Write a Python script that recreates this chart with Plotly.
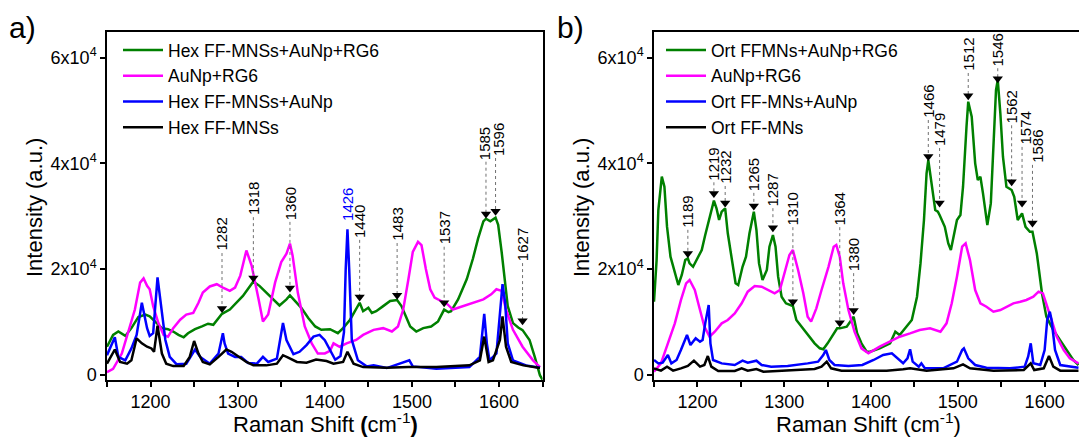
import plotly.graph_objects as go

# ---------------- panel a: hexagonal FF-MNSs ----------------
hex_rg6_x = [1150, 1157, 1163, 1171, 1178, 1186, 1194, 1199, 1205, 1213, 1220, 1226, 1232, 1238, 1243,
             1251, 1259, 1266, 1272, 1278, 1282, 1291, 1299, 1306, 1313, 1318, 1325, 1333, 1341, 1348,
             1356, 1360, 1366, 1373, 1381, 1389, 1396, 1406, 1415, 1421, 1429, 1435, 1440, 1444, 1450,
             1454, 1459, 1467, 1475, 1483, 1488, 1493, 1498, 1505, 1513, 1522, 1530, 1537, 1542, 1545,
             1553, 1563, 1570, 1576, 1582, 1585, 1590, 1596, 1599, 1603, 1607, 1610, 1616, 1622, 1627,
             1635, 1641, 1647, 1650]
hex_rg6_y = [5260, 7500, 8140, 7310, 8780, 10900, 11350, 11030, 10060, 8780, 8590, 8140, 7500, 7050, 7820,
             8590, 9100, 9620, 9420, 10700, 11500, 12300, 13590, 14870, 16470, 17600, 16790, 15510, 14230, 13080,
             14230, 15000, 13910, 12630, 10700, 9100, 8460, 8590, 7820, 8780, 10380, 11990, 13590, 11990, 12630,
             11670, 11990, 12950, 13910, 14100, 12950, 11030, 9100, 8140, 8780, 9100, 10060, 12300, 11800, 11990,
             14230, 18080, 21920, 25770, 29000, 29500, 29000, 29700, 28330, 23200, 17440, 12950, 9740, 8900, 8400,
             6540, 3330, -190, -1000]

hex_aunp_rg6_x = [1150, 1157, 1167, 1174, 1182, 1188, 1192, 1196, 1199, 1203, 1209, 1215, 1220, 1226, 1234,
                  1241, 1249, 1255, 1260, 1268, 1276, 1283, 1291, 1297, 1303, 1310, 1316, 1324, 1329, 1335,
                  1343, 1350, 1356, 1360, 1363, 1369, 1377, 1385, 1392, 1400, 1406, 1410, 1417, 1425, 1436,
                  1444, 1456, 1467, 1477, 1484, 1490, 1496, 1501, 1507, 1511, 1516, 1521, 1526, 1534, 1541,
                  1547, 1559, 1570, 1582, 1591, 1597, 1603, 1608, 1616, 1627, 1639, 1647]
hex_aunp_rg6_y = [450, 1090, 3970, 7820, 12300, 17400, 18200, 16800, 16150, 12950, 9740, 7500, 7180, 8780, 10380,
                  11350, 11670, 13590, 15510, 16670, 17100, 16470, 15830, 16470, 18720, 23500, 20640, 14230, 10060, 11350,
                  17440, 21280, 22880, 24800, 22560, 15510, 9100, 5900, 3970, 4000, 4500, 5900, 5260, 5900, 6540,
                  7500, 8460, 8780, 8140, 9100, 12300, 18080, 23200, 25130, 24490, 20000, 16150, 14550, 13910, 13270,
                  12300, 12950, 13590, 14230, 15190, 16150, 15830, 12300, 8460, 5260, 2690, 1410]

hex_au_x = [1150, 1159, 1163, 1171, 1178, 1184, 1190, 1196, 1199, 1203, 1208, 1213, 1217, 1222, 1230,
            1241, 1251, 1257, 1268, 1278, 1283, 1285, 1289, 1297, 1304, 1312, 1322, 1329, 1335, 1345,
            1352, 1356, 1364, 1371, 1379, 1387, 1394, 1400, 1406, 1412, 1418, 1422, 1424, 1426, 1428,
            1431, 1438, 1448, 1456, 1471, 1497, 1501, 1528, 1566, 1578, 1583, 1586, 1589, 1597, 1601,
            1604, 1607, 1610, 1616, 1631, 1647]
hex_au_y = [3650, 7050, 3330, 2690, 4940, 7500, 13590, 8780, 7310, 7820, 18400, 12300, 6540, 3330, 1920,
            2050, 4740, 3330, 2050, 3970, 7820, 5900, 3970, 3330, 3330, 2180, 2050, 3330, 2370, 3010,
            9740, 6540, 3850, 4300, 5580, 7180, 7500, 6500, 4500, 2800, 3500, 8000, 20000, 27500, 20000,
            6540, 2690, 1540, 1730, 1220, 2690, 1540, 1090, 1410, 3330, 11500, 5900, 2690, 3970, 11000,
            17100, 13600, 5900, 2690, 1730, 1280]

hex_x = [1150, 1159, 1165, 1173, 1178, 1184, 1190, 1196, 1201, 1204, 1208, 1213, 1218, 1226, 1238,
         1245, 1250, 1255, 1260, 1268, 1278, 1287, 1293, 1301, 1310, 1318, 1333, 1345, 1352, 1358,
         1368, 1379, 1390, 1402, 1410, 1421, 1426, 1433, 1444, 1471, 1496, 1528, 1566, 1578, 1583,
         1588, 1593, 1601, 1604, 1608, 1614, 1628, 1647]
hex_y = [2050, 4740, 2370, 2050, 2690, 6860, 5900, 5260, 4940, 4300, 9230, 3970, 2050, 1600, 1600,
         3330, 6350, 3970, 2370, 1920, 3330, 4740, 4300, 3330, 2370, 1730, 1730, 2050, 3650, 3200,
         2370, 2240, 2820, 2560, 2050, 2370, 4300, 2050, 1410, 1280, 1410, 1410, 1730, 2690, 7180,
         2370, 2690, 6540, 11000, 5260, 2370, 1730, 1220]

# peak labels of panel a (wavenumber, marker height, label base height)
peaks_a = [1282, 1318, 1360, 1440, 1483, 1537, 1585, 1596, 1627]
peaks_a_mark = [12500, 18300, 16400, 14700, 15000, 13600, 30400, 30900, 10200]
peaks_a_text = [23000, 29800, 28900, 25500, 24900, 24200, 40300, 41000, 21100]
blue_peak_a = 1426
blue_peak_a_text = 28700

# ---------------- panel b: orthorhombic FF-MNs ----------------
ort_rg6_x = [1150, 1153, 1155, 1159, 1162, 1165, 1169, 1174, 1178, 1182, 1186, 1189, 1191, 1195, 1200,
             1205, 1209, 1214, 1219, 1222, 1225, 1228, 1232, 1235, 1240, 1244, 1247, 1252, 1256, 1260,
             1265, 1268, 1271, 1275, 1280, 1283, 1287, 1290, 1293, 1297, 1302, 1310, 1314, 1320, 1327,
             1335, 1341, 1345, 1350, 1356, 1361, 1364, 1372, 1380, 1384, 1389, 1395, 1399, 1410, 1422,
             1428, 1433, 1441, 1447, 1453, 1457, 1461, 1464, 1466, 1470, 1474, 1477, 1479, 1485, 1489,
             1492, 1496, 1499, 1503, 1506, 1510, 1512, 1516, 1520, 1523, 1526, 1529, 1534, 1538, 1541,
             1544, 1546, 1549, 1552, 1556, 1562, 1565, 1569, 1574, 1578, 1583, 1586, 1591, 1597, 1602,
             1610, 1618, 1625, 1633, 1639]
ort_rg6_y = [13800, 21670, 31150, 37470, 35580, 28000, 22320, 19160, 16950, 18840, 21670, 22000, 21040, 20400, 22000,
             23580, 26420, 29890, 32920, 31470, 29260, 30840, 31470, 26740, 21670, 17270, 16950, 20400, 22320, 26740,
             30840, 27370, 21040, 17900, 19790, 24210, 26420, 24210, 18520, 14730, 13480, 12970, 10320, 9060, 7480,
             5900, 4960, 4770, 5900, 7480, 8740, 8740, 9060, 10950, 7800, 5900, 4320, 4320, 4960, 5900,
             8110, 7480, 9060, 10320, 14730, 21040, 29260, 38100, 40600, 35560, 31150, 30840, 30210, 27970, 24820,
             23560, 26720, 29260, 30210, 35560, 46930, 51670, 48830, 39990, 36830, 37460, 34300, 28300, 32400, 43140,
             53870, 55770, 49450, 41240, 35560, 34930, 33650, 29260, 30520, 27970, 27030, 27030, 22920, 15350, 10950,
             8420, 6530, 4640, 2750, 1800]

ort_aunp_rg6_x = [1150, 1158, 1166, 1174, 1181, 1187, 1191, 1197, 1203, 1208, 1214, 1220, 1228, 1235, 1243,
                  1251, 1258, 1266, 1274, 1281, 1289, 1295, 1301, 1306, 1310, 1316, 1322, 1327, 1331, 1337,
                  1343, 1351, 1357, 1360, 1364, 1368, 1374, 1381, 1389, 1397, 1410, 1422, 1433, 1445, 1456,
                  1468, 1480, 1487, 1493, 1499, 1505, 1509, 1514, 1520, 1526, 1533, 1541, 1549, 1556, 1564,
                  1572, 1579, 1587, 1593, 1598, 1602, 1608, 1614, 1622, 1629, 1639]
ort_aunp_rg6_y = [540, 2110, 5900, 9690, 14080, 17270, 17900, 16000, 12210, 9060, 7160, 8110, 9690, 10320, 11580,
                  13480, 15690, 16760, 16630, 16000, 15370, 16000, 19790, 22630, 23580, 19790, 15370, 10950, 10010, 12530,
                  16000, 20400, 24210, 24530, 22320, 17270, 12210, 8110, 4960, 4010, 5270, 6220, 7160, 7790, 8420,
                  8740, 8110, 9690, 13480, 18520, 24210, 24840, 21670, 15990, 13480, 12840, 11900, 12210, 12840, 13480,
                  13790, 14110, 14730, 15680, 15360, 13480, 10320, 7160, 4640, 3060, 2120]

ort_au_x = [1150, 1155, 1160, 1166, 1170, 1176, 1181, 1188, 1192, 1198, 1203, 1206, 1209, 1213, 1215,
            1218, 1228, 1243, 1252, 1258, 1268, 1274, 1285, 1304, 1327, 1339, 1345, 1348, 1352, 1358,
            1374, 1390, 1403, 1414, 1424, 1430, 1437, 1442, 1445, 1448, 1455, 1458, 1462, 1483, 1499,
            1505, 1507, 1512, 1520, 1533, 1560, 1577, 1581, 1584, 1587, 1595, 1600, 1603, 1606, 1608,
            1612, 1618, 1639]
ort_au_y = [2750, 2110, 2240, 3690, 2110, 2750, 4640, 7480, 5590, 6850, 6220, 6530, 9690, 13160, 5900,
            2750, 2110, 1800, 2620, 2240, 2620, 1800, 1490, 1610, 2110, 2430, 3690, 4640, 2750, 1800,
            1610, 1800, 2750, 3700, 4010, 3060, 2120, 3060, 4770, 2430, 1480, 2120, 1170, 1170, 2430,
            4640, 4960, 3060, 1800, 1300, 1170, 1480, 3380, 5900, 2120, 1800, 4640, 10320, 11900, 10320,
            4640, 1800, 1300]

ort_x = [1150, 1158, 1165, 1172, 1181, 1189, 1196, 1203, 1208, 1212, 1216, 1224, 1243, 1251, 1258,
         1268, 1276, 1297, 1316, 1335, 1343, 1349, 1354, 1366, 1397, 1418, 1437, 1445, 1464, 1495,
         1506, 1514, 1541, 1576, 1584, 1588, 1599, 1605, 1610, 1618, 1639]
ort_y = [1170, 730, 1490, 730, 1170, 1610, 2620, 1490, 1800, 3500, 1490, 670, 670, 1170, 730,
         1040, 540, 670, 850, 1040, 1490, 2430, 1170, 730, 730, 730, 980, 1170, 730, 1170,
         1930, 1170, 730, 850, 2120, 850, 1170, 3500, 1480, 730, 730]

peaks_b = [1189, 1219, 1232, 1265, 1287, 1310, 1364, 1380, 1466, 1479, 1512, 1546, 1562, 1574, 1586]
peaks_b_mark = [22900, 34300, 32500, 31900, 27800, 13800, 9800, 12100, 41300, 32500, 52800, 56000, 36500, 32500, 28700]
peaks_b_text = [27400, 36400, 35700, 34400, 31500, 27900, 27900, 19200, 48200, 42900, 57100, 58000, 47200, 43100, 39700]

GREEN = "#008000"
MAGENTA = "#FF00FF"
BLUE = "#0000FF"
BLACK = "#000000"
FONT = "Liberation Sans, Arial, sans-serif"

# small sideways nudges (px) that keep crowded peak labels apart
label_nudge = {("x", 1585): -2, ("x", 1596): 3, ("x2", 1574): 3, ("x2", 1586): 5}

panels = [
    dict(xa="x", ya="y", legend="legend",
         series=[("Hex FF-MNSs+AuNp+RG6", hex_rg6_x, hex_rg6_y, GREEN),
                 ("AuNp+RG6", hex_aunp_rg6_x, hex_aunp_rg6_y, MAGENTA),
                 ("Hex FF-MNSs+AuNp", hex_au_x, hex_au_y, BLUE),
                 ("Hex FF-MNSs", hex_x, hex_y, BLACK)],
         peaks=(peaks_a, peaks_a_mark, peaks_a_text)),
    dict(xa="x2", ya="y2", legend="legend2",
         series=[("Ort FFMNs+AuNp+RG6", ort_rg6_x, ort_rg6_y, GREEN),
                 ("AuNp+RG6", ort_aunp_rg6_x, ort_aunp_rg6_y, MAGENTA),
                 ("Ort FF-MNs+AuNp", ort_au_x, ort_au_y, BLUE),
                 ("Ort FF-MNs", ort_x, ort_y, BLACK)],
         peaks=(peaks_b, peaks_b_mark, peaks_b_text)),
]

fig = go.Figure()
annotations = []

for p in panels:
    for name, xs, ys, col in p["series"]:
        fig.add_trace(go.Scatter(x=xs, y=ys, mode="lines", name=name,
                                 line=dict(color=col, width=2.5),
                                 xaxis=p["xa"], yaxis=p["ya"], legend=p["legend"]))
    px, pm, pt = p["peaks"]
    # dotted leader lines from the label down to the marker
    lx, ly = [], []
    for x, m, t in zip(px, pm, pt):
        lx += [x, x, None]
        ly += [t, m, None]
    fig.add_trace(go.Scatter(x=lx, y=ly, mode="lines", showlegend=False,
                             line=dict(color="#707070", width=1, dash="dot"),
                             xaxis=p["xa"], yaxis=p["ya"], hoverinfo="skip"))
    fig.add_trace(go.Scatter(x=px, y=pm, mode="markers", showlegend=False,
                             marker=dict(symbol="triangle-down", size=9, color=BLACK),
                             xaxis=p["xa"], yaxis=p["ya"], hoverinfo="skip"))
    for x, t in zip(px, pt):
        annotations.append(dict(x=x, y=t, xref=p["xa"], yref=p["ya"], text=str(x),
                                textangle=-90, showarrow=False, xanchor="center", yanchor="bottom",
                                xshift=label_nudge.get((p["xa"], x), 0),
                                font=dict(family=FONT, size=15, color=BLACK)))

annotations.append(dict(x=blue_peak_a, y=blue_peak_a_text, xref="x", yref="y", text=str(blue_peak_a),
                        textangle=-90, showarrow=False, xanchor="center", yanchor="bottom",
                        font=dict(family=FONT, size=15, color=BLUE)))

W, H = 1079, 437
ydom = [1 - 380 / H, 1 - 31.7 / H]
yrange = [-1040, 64920]
tickvals = [0, 20000, 40000, 60000]
ticktext = ["0", "2x10<sup>4</sup>", "4x10<sup>4</sup>", "6x10<sup>4</sup>"]

axis_common = dict(showline=True, linecolor=BLACK, linewidth=1.5, ticks="outside", ticklen=5,
                   tickwidth=1.5, tickcolor=BLACK, showgrid=False, zeroline=False, automargin=False,
                   tickfont=dict(family=FONT, size=18, color=BLACK))

xcommon = dict(axis_common, dtick=100, tick0=1200,
               minor=dict(dtick=50, ticklen=5, tickwidth=1.5, tickcolor=BLACK, ticks="outside"))

legend_common = dict(xanchor="left", yanchor="top", bgcolor="rgba(0,0,0,0)", itemwidth=40,
                     font=dict(family=FONT, size=17.5, color=BLACK), traceorder="normal")

fig.update_layout(
    width=W, height=H, margin=dict(l=0, r=0, t=0, b=0, pad=0, autoexpand=False),
    paper_bgcolor="white", plot_bgcolor="white",
    xaxis=dict(xcommon, domain=[107 / W, 542.6 / W], range=[1150, 1650], anchor="y", mirror=True),
    yaxis=dict(axis_common, domain=ydom, range=yrange, tickvals=tickvals, ticktext=ticktext,
               anchor="x", mirror=True),
    xaxis2=dict(xcommon, domain=[654 / W, 1.0], range=[1150, 1639.6], anchor="y2", mirror=True),
    yaxis2=dict(axis_common, domain=ydom, range=yrange, tickvals=tickvals, ticktext=ticktext,
                anchor="x2", mirror=False),
    legend=dict(legend_common, x=118 / W, y=1 - 32 / H),
    legend2=dict(legend_common, x=661 / W, y=1 - 32 / H),
    showlegend=True,
)

title_font = dict(family=FONT, size=22, color=BLACK)


def paper_text(x, y, text, font, angle=0):
    return dict(x=x / W, y=1 - y / H, xref="paper", yref="paper", text=text, showarrow=False,
                xanchor="center", yanchor="middle", textangle=angle, font=font)


annotations += [
    paper_text(22, 27, "a)", dict(family=FONT, size=30, color=BLACK)),
    paper_text(570, 27, "b)", dict(family=FONT, size=30, color=BLACK)),
    paper_text(325, 423, "Raman Shift <b>(</b>cm<sup>-1</sup><b>)</b>", title_font),
    paper_text(868, 423, "Raman Shift (cm<sup>-1</sup>)", title_font),
    paper_text(34, 208, "Intensity (a.u.)", title_font, -90),
    paper_text(581, 208, "Intensity (a.u.)", title_font, -90),
]
fig.update_layout(annotations=annotations)

fig.write_html("out.html")
